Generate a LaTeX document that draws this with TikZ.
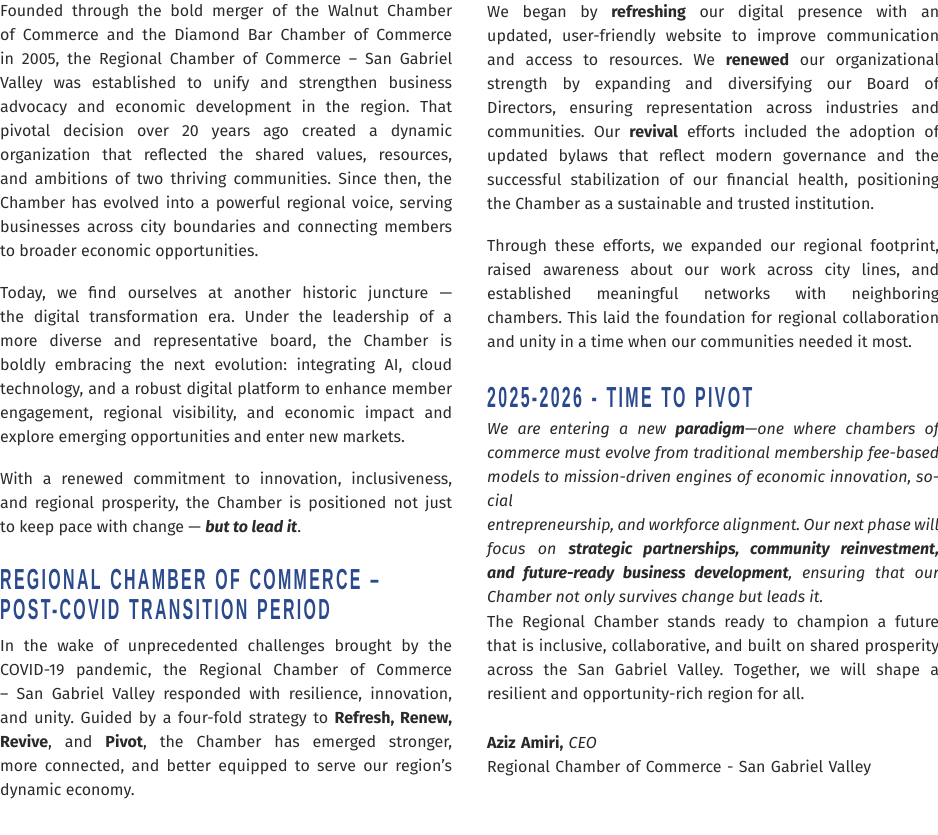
\documentclass[tikz,border=0pt]{standalone}
\usepackage{fontspec}
\setmainfont{Fira Sans}
\newfontfamily\headfont[FakeStretch=0.55,LetterSpace=8]{Liberation Sans Bold}
\usetikzlibrary{positioning}
\definecolor{headblue}{HTML}{2B4A8E}
\definecolor{bodygray}{HTML}{2A2A2A}
\frenchspacing
\tikzset{
  column/.style={anchor=north west, inner sep=0pt, text width=452pt, align=justify,
    font=\frenchspacing\fontsize{16}{24}\selectfont, text=bodygray},
  heading/.style={anchor=north west, inner sep=0pt, text width=452pt, align=left,
    font=\headfont\fontsize{29}{30}\selectfont, text=headblue}
}
\newcommand{\nl}{\linebreak}
\begin{document}
\begin{tikzpicture}[x=1pt,y=1pt]
  \useasboundingbox (0,0) rectangle (938,835);
  % left column
  \node[column] (leftA) at (0,831) {Founded through the bold merger of the Walnut Chamber\nl of Commerce and the Diamond Bar Chamber of Commerce\nl in 2005, the Regional Chamber of Commerce -- San Gabriel\nl Valley was established to unify and strengthen business\nl advocacy and economic development in the region. That\nl pivotal decision over 20 years ago created a dynamic\nl organization that reflected the shared values, resources,\nl and ambitions of two thriving communities. Since then, the\nl Chamber has evolved into a powerful regional voice, serving\nl businesses across city boundaries and connecting members\nl to broader economic opportunities.

  \vspace{18pt}
  Today, we find ourselves at another historic juncture ---\nl the digital transformation era. Under the leadership of a\nl more diverse and representative board, the Chamber is\nl boldly embracing the next evolution: integrating AI, cloud\nl technology, and a robust digital platform to enhance member\nl engagement, regional visibility, and economic impact and\nl explore emerging opportunities and enter new markets.

  \vspace{18pt}
  With a renewed commitment to innovation, inclusiveness,\nl and regional prosperity, the Chamber is positioned not just\nl to keep pace with change --- \textbf{\textit{but to lead it}}.};
  \node[heading] (leftHead) at (0,266) {REGIONAL CHAMBER OF COMMERCE \textendash\\POST-COVID TRANSITION PERIOD};
  \node[column] (leftB) at (0,196) {In the wake of unprecedented challenges brought by the\nl COVID-19 pandemic, the Regional Chamber of Commerce\nl -- San Gabriel Valley responded with resilience, innovation,\nl and unity. Guided by a four-fold strategy to \textbf{Refresh, Renew,}\nl \textbf{Revive}, and \textbf{Pivot}, the Chamber has emerged stronger,\nl more connected, and better equipped to serve our region's\nl dynamic economy.};
  % right column
  \node[column] (rightA) at (487,831) {We began by \textbf{refreshing} our digital presence with an\nl updated, user-friendly website to improve communication\nl and access to resources. We \textbf{renewed} our organizational\nl strength by expanding and diversifying our Board of\nl Directors, ensuring representation across industries and\nl communities. Our \textbf{revival} efforts included the adoption of\nl updated bylaws that reflect modern governance and the\nl successful stabilization of our financial health, positioning\nl the Chamber as a sustainable and trusted institution.

  \vspace{18pt}
  Through these efforts, we expanded our regional footprint,\nl raised awareness about our work across city lines, and\nl established meaningful networks with neighboring\nl chambers. This laid the foundation for regional collaboration\nl and unity in a time when our communities needed it most.};
  \node[heading] (rightHead) at (487,448) {2025-2026 - TIME TO PIVOT};
  \node[column, font=\frenchspacing\itshape\fontsize{16}{24}\selectfont] (rightB) at (487,414) {We are entering a new \textbf{paradigm}---one where chambers of\nl commerce must evolve from traditional membership fee-based\nl models to mission-driven engines of economic innovation, social\nl entrepreneurship, and workforce alignment. Our next phase will\nl focus on \textbf{strategic partnerships, community reinvestment,}\nl \textbf{and future-ready business development}, ensuring that our\nl Chamber not only survives change but leads it.};
  \node[column] (rightC) at (487,220) {The Regional Chamber stands ready to champion a future\nl that is inclusive, collaborative, and built on shared prosperity\nl across the San Gabriel Valley. Together, we will shape a\nl resilient and opportunity-rich region for all.};
  \node[column, align=left] (sign) at (487,100) {\textbf{Aziz Amiri,} \textit{CEO}\\Regional Chamber of Commerce - San Gabriel Valley};
\end{tikzpicture}
\end{document}
